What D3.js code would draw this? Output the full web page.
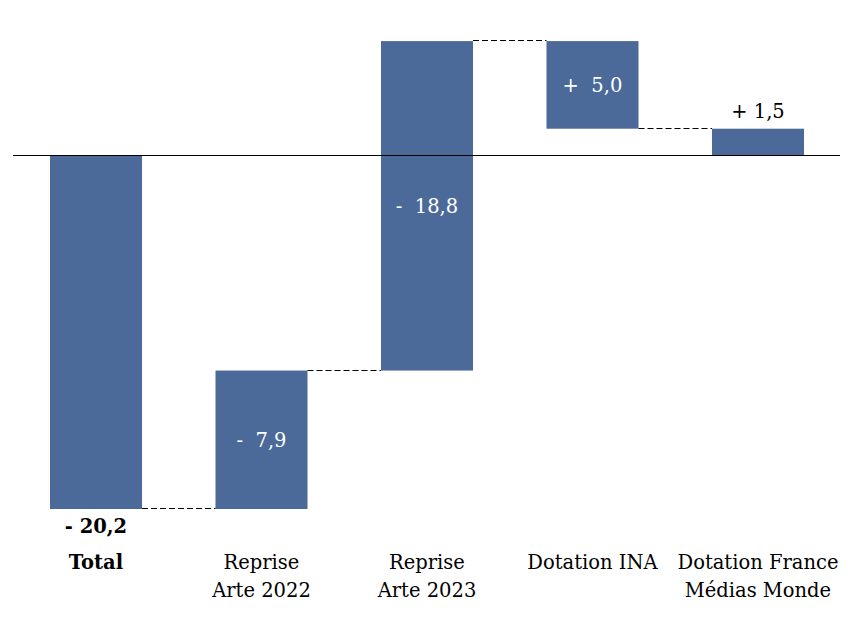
<!DOCTYPE html>
<html>
<head>
<meta charset="utf-8">
<script src="https://cdn.jsdelivr.net/npm/d3@7"></script>
<style>
  body { margin: 0; background: #fff; }
  text { font-family: "DejaVu Serif", "Liberation Serif", serif; }
</style>
</head>
<body>
<div id="chart"></div>
<script>
// données (Md€)
const categories = ["Total", "Reprise|Arte 2022", "Reprise|Arte 2023", "Dotation INA", "Dotation France|Médias Monde"];
const values = [-20.2, -7.9, -18.8, 5.0, 1.5];
const valueLabels = ["- 20,2", "-  7,9", "-  18,8", "+  5,0", "+ 1,5"];

const width = 858, height = 617;
const barColor = "#4b6a99";
const fontSize = 19.5;

// bornes de chaque barre (cascade lue de droite à gauche)
let bars = [];
let level = 0;
for (let i = categories.length - 1; i >= 1; i--) {
    let start = level;
    level = level + values[i];
    bars[i] = { start: start, end: level };
}
bars[0] = { start: 0, end: values[0] };

const x = d3.scaleBand()
    .domain(categories)
    .range([50, 804])
    .paddingInner(0.444)
    .paddingOuter(0);

const y = d3.scaleLinear()
    .domain([0, -20.2])
    .range([155, 509]);

const svg = d3.select("#chart").append("svg")
    .attr("width", width)
    .attr("height", height);

// barres
svg.selectAll(".bar")
    .data(categories)
    .enter().append("rect")
    .attr("class", "bar")
    .attr("x", d => x(d))
    .attr("width", x.bandwidth())
    .attr("y", (d, i) => y(Math.max(bars[i].start, bars[i].end)))
    .attr("height", (d, i) => Math.abs(y(bars[i].start) - y(bars[i].end)))
    .attr("fill", barColor);

// traits pointillés entre barres
for (let i = 0; i < categories.length - 1; i++) {
    let lv = bars[i + 1].end;
    let yy = Math.round(y(lv)) - 0.5;
    svg.append("line")
        .attr("x1", x(categories[i]) + x.bandwidth())
        .attr("x2", x(categories[i + 1]))
        .attr("y1", yy)
        .attr("y2", yy)
        .attr("stroke", "#000")
        .attr("stroke-width", 1)
        .attr("stroke-dasharray", "6,3");
}

// axe zéro
svg.append("line")
    .attr("x1", 13).attr("x2", 840)
    .attr("y1", y(0) + 0.5).attr("y2", y(0) + 0.5)
    .attr("stroke", "#000")
    .attr("stroke-width", 1);

// étiquettes de valeurs
categories.forEach(function (c, i) {
    let cx = x(c) + x.bandwidth() / 2;
    let top = Math.max(bars[i].start, bars[i].end);
    let bot = Math.min(bars[i].start, bars[i].end);
    let t = svg.append("text")
        .attr("text-anchor", "middle")
        .attr("font-size", fontSize)
        .style("white-space", "pre");
    if (i === 0) {
        t.attr("x", cx).attr("y", y(bot) + 24).attr("font-weight", "bold").attr("fill", "#000");
    } else if (i === categories.length - 1) {
        t.attr("x", cx).attr("y", y(top) - 11).attr("fill", "#000");
    } else {
        t.attr("x", cx).attr("y", (y(top) + y(bot)) / 2 + 7).attr("fill", "#fff");
    }
    t.text(valueLabels[i]);
});

// étiquettes de catégories
categories.forEach(function (c, i) {
    let cx = x(c) + x.bandwidth() / 2;
    let lines = c.split("|");
    let t = svg.append("text")
        .attr("text-anchor", "middle")
        .attr("font-size", fontSize)
        .attr("font-weight", i === 0 ? "bold" : "normal")
        .attr("fill", "#000");
    lines.forEach(function (l, k) {
        t.append("tspan").attr("x", cx).attr("y", 569 + k * 28).text(l);
    });
});
</script>
</body>
</html>
